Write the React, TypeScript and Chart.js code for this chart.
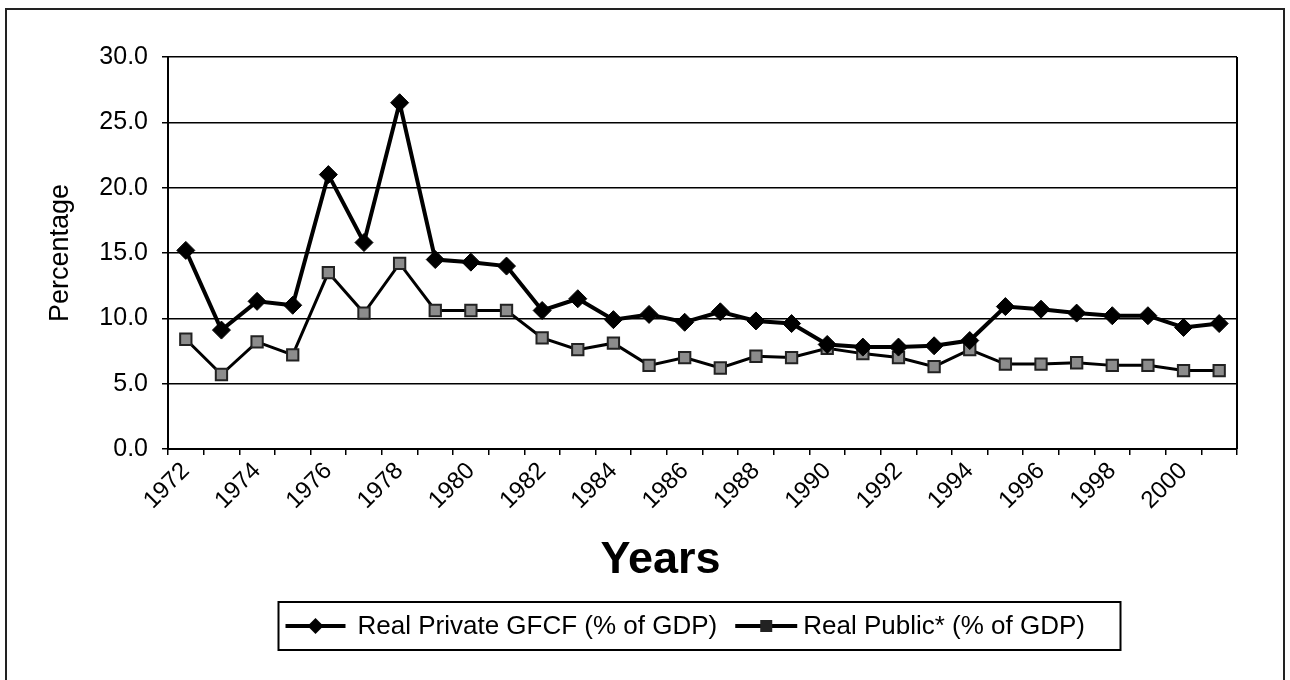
import React, { useEffect, useRef } from "react";
import { Chart, registerables } from "chart.js";

Chart.register(...registerables);

const years = [
  "1972", "1973", "1974", "1975", "1976", "1977", "1978", "1979", "1980", "1981",
  "1982", "1983", "1984", "1985", "1986", "1987", "1988", "1989", "1990", "1991",
  "1992", "1993", "1994", "1995", "1996", "1997", "1998", "1999", "2000", "2001",
];

const privateGFCF = [
  15.2, 9.1, 11.3, 11.0, 21.0, 15.8, 26.5, 14.5, 14.3, 14.0,
  10.6, 11.5, 9.9, 10.3, 9.7, 10.5, 9.8, 9.6, 8.0, 7.8,
  7.8, 7.9, 8.3, 10.9, 10.7, 10.4, 10.2, 10.2, 9.3, 9.6,
];

const publicGFCF = [
  8.4, 5.7, 8.2, 7.2, 13.5, 10.4, 14.2, 10.6, 10.6, 10.6,
  8.5, 7.6, 8.1, 6.4, 7.0, 6.2, 7.1, 7.0, 7.7, 7.3,
  7.0, 6.3, 7.6, 6.5, 6.5, 6.6, 6.4, 6.4, 6.0, 6.0,
];

const seriesNames = ["Real Private GFCF (% of GDP)", "Real Public* (% of GDP)"];
const yAxisTitle = "Percentage";
const xAxisTitle = "Years";

const FONT = "'Liberation Sans', Arial, sans-serif";

const framePlugin = {
  id: "frame",
  afterDraw(chart: any) {
    const { ctx, chartArea } = chart;
    ctx.save();
    ctx.strokeStyle = "#000";
    ctx.lineWidth = 2;
    ctx.beginPath();
    ctx.moveTo(chartArea.right, chartArea.top);
    ctx.lineTo(chartArea.right, chartArea.bottom);
    ctx.stroke();
    // x-axis title (Excel places it slightly left of centre)
    ctx.font = `bold 45px ${FONT}`;
    ctx.fillStyle = "#000";
    ctx.textAlign = "center";
    ctx.textBaseline = "middle";
    ctx.fillText(xAxisTitle, (chartArea.left + chartArea.right) / 2 - 42, chartArea.bottom + 112);
    ctx.restore();
  },
};

function drawDiamond(ctx: CanvasRenderingContext2D, x: number, y: number, r: number) {
  ctx.beginPath();
  ctx.moveTo(x, y - r);
  ctx.lineTo(x + r, y);
  ctx.lineTo(x, y + r);
  ctx.lineTo(x - r, y);
  ctx.closePath();
  ctx.fillStyle = "#000";
  ctx.fill();
}

const legendPlugin = {
  id: "boxLegend",
  afterDraw(chart: any) {
    const { ctx, chartArea } = chart;
    const W = 842;
    const H = 48;
    const cx = (chartArea.left + chartArea.right) / 2 - 3;
    const left = cx - W / 2;
    const top = chartArea.bottom + 153;
    const midY = top + H / 2;
    ctx.save();
    ctx.strokeStyle = "#000";
    ctx.lineWidth = 2;
    ctx.strokeRect(left, top, W, H);
    ctx.font = `26px ${FONT}`;
    ctx.fillStyle = "#000";
    ctx.textBaseline = "middle";
    ctx.textAlign = "left";

    // item 1
    let x = left + 7;
    ctx.lineWidth = 4;
    ctx.beginPath();
    ctx.moveTo(x, midY);
    ctx.lineTo(x + 60, midY);
    ctx.stroke();
    drawDiamond(ctx, x + 30, midY, 8);
    x += 72;
    ctx.fillStyle = "#000";
    ctx.fillText(seriesNames[0], x, midY + 1);
    x += ctx.measureText(seriesNames[0]).width + 18;

    // item 2
    ctx.lineWidth = 4;
    ctx.beginPath();
    ctx.moveTo(x, midY);
    ctx.lineTo(x + 62, midY);
    ctx.stroke();
    ctx.fillStyle = "#222";
    ctx.fillRect(x + 31 - 6, midY - 6, 12, 12);
    x += 68;
    ctx.fillStyle = "#000";
    ctx.fillText(seriesNames[1], x, midY + 1);
    ctx.restore();
  },
};

export default function App() {
  const canvasRef = useRef<HTMLCanvasElement | null>(null);

  useEffect(() => {
    const canvas = canvasRef.current;
    if (!canvas) return;
    const chart = new Chart(canvas, {
      type: "line",
      data: {
        labels: years,
        datasets: [
          {
            label: seriesNames[0],
            data: privateGFCF,
            borderColor: "#000",
            backgroundColor: "#000",
            borderWidth: 4,
            pointStyle: "rectRot",
            pointRadius: 9,
            pointBorderWidth: 1,
            pointBackgroundColor: "#000",
            pointBorderColor: "#000",
            tension: 0,
          },
          {
            label: seriesNames[1],
            data: publicGFCF,
            borderColor: "#000",
            backgroundColor: "#8c8c8c",
            borderWidth: 3,
            pointStyle: "rect",
            pointRadius: 8,
            pointBorderWidth: 2,
            pointBackgroundColor: "#8c8c8c",
            pointBorderColor: "#222",
            tension: 0,
          },
        ],
      },
      options: {
        responsive: false,
        animation: false,
        layout: { padding: { left: 44, top: 57, right: 53, bottom: 91 } },
        plugins: {
          legend: { display: false },
          tooltip: { enabled: false },
        },
        scales: {
          x: {
            offset: true,
            afterFit: (scale: any) => {
              scale.height = 140;
            },
            grid: {
              display: true,
              drawOnChartArea: false,
              drawTicks: true,
              tickLength: 6,
              offset: true,
              color: "#000",
              lineWidth: 1.5,
            },
            border: { display: true, color: "#000", width: 2 },
            ticks: {
              autoSkip: false,
              maxRotation: 45,
              minRotation: 45,
              padding: 2,
              color: "#000",
              font: { family: FONT, size: 24 },
              callback: (_v: any, i: number) => (i % 2 === 0 ? years[i] : ""),
            },
            title: { display: false },
          },
          y: {
            min: 0,
            max: 30,
            afterFit: (scale: any) => {
              scale.width = 124;
            },
            grid: {
              color: "#000",
              lineWidth: 1.5,
              drawTicks: true,
              tickLength: 6,
            },
            border: { display: true, color: "#000", width: 2 },
            ticks: {
              stepSize: 5,
              padding: 14,
              color: "#000",
              font: { family: FONT, size: 25 },
              callback: (v: any) => Number(v).toFixed(1),
            },
            title: {
              display: true,
              text: yAxisTitle,
              color: "#000",
              font: { family: FONT, size: 27 },
              padding: { top: 0, bottom: 0 },
            },
          },
        },
      },
      plugins: [framePlugin, legendPlugin],
    });
    return () => chart.destroy();
  }, []);

  return (
    <div
      style={{
        position: "fixed",
        left: 0,
        top: 0,
        width: 1290,
        height: 680,
        background: "#fff",
        overflow: "hidden",
      }}
    >
      <div
        style={{
          position: "absolute",
          left: 5,
          top: 8,
          width: 1276,
          height: 700,
          border: "2px solid #222",
          borderBottom: "none",
        }}
      />
      <canvas ref={canvasRef} width={1290} height={680} style={{ position: "absolute", left: 0, top: 0 }} />
    </div>
  );
}
